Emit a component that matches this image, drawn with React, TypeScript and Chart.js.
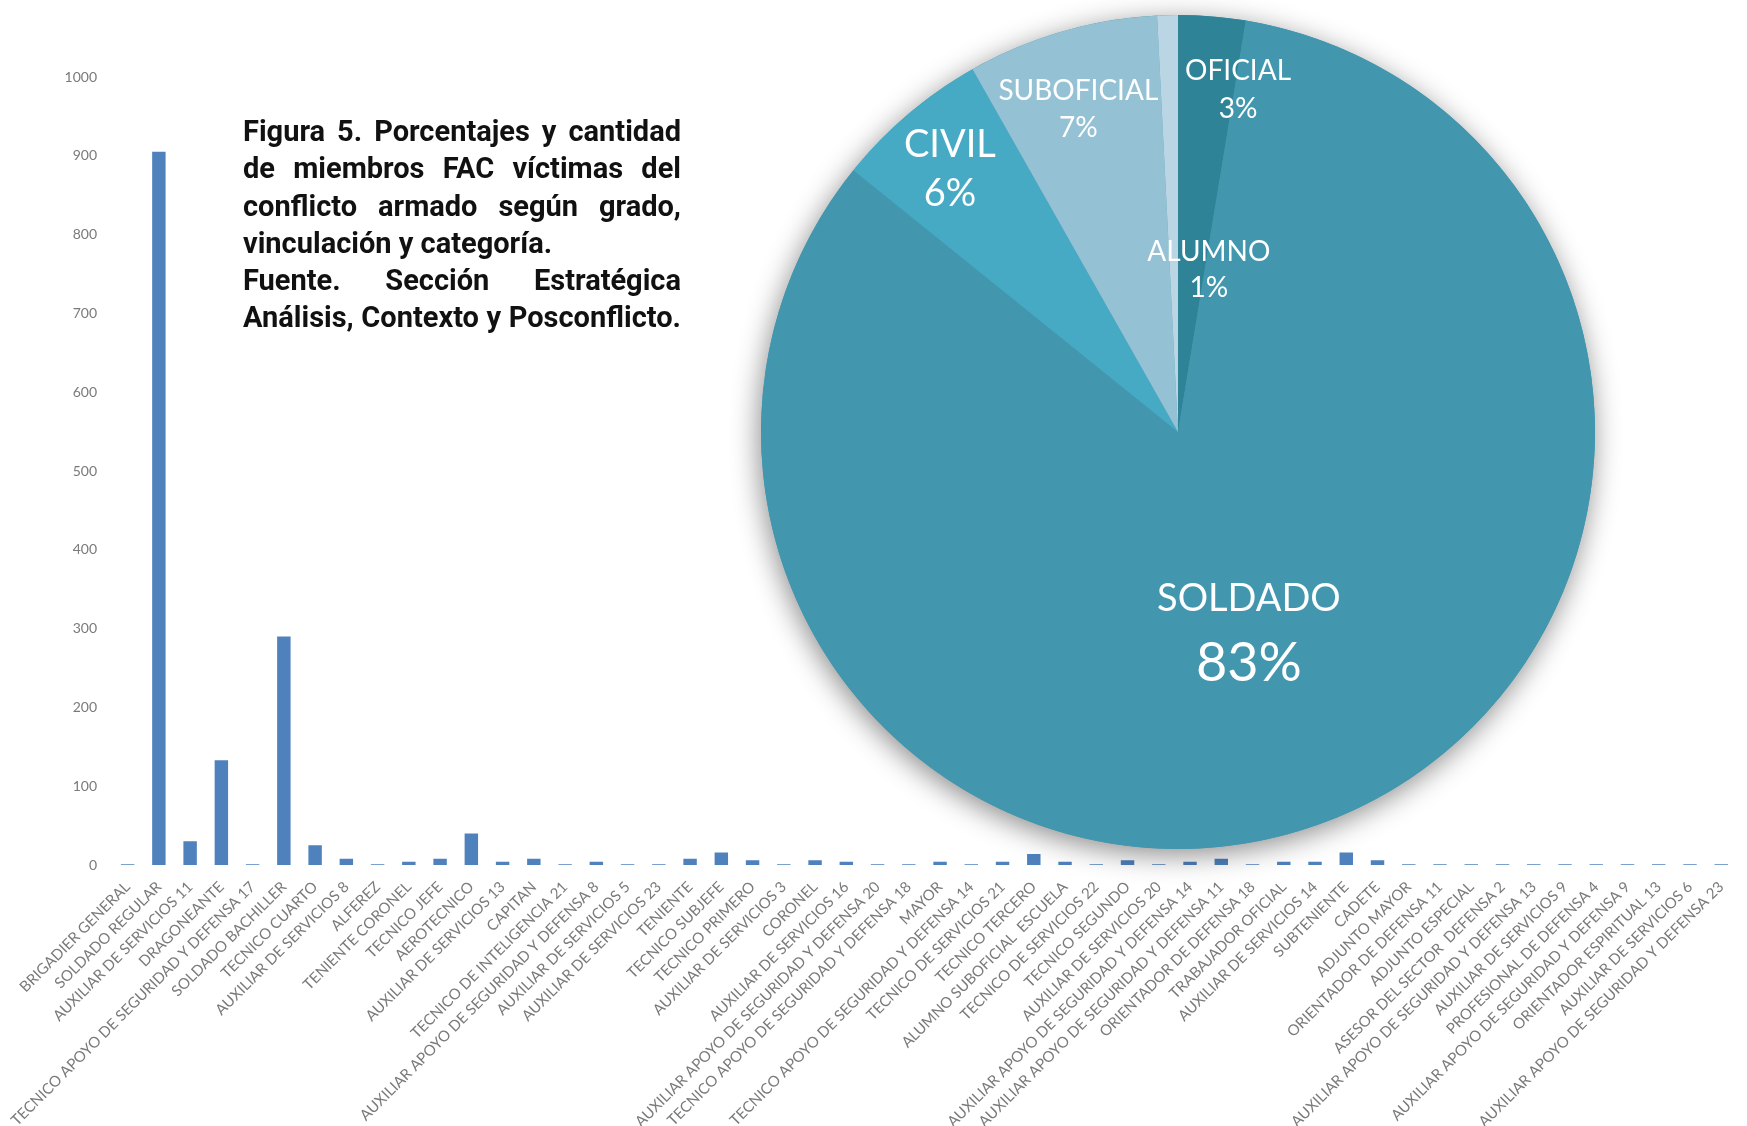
import React, { useEffect, useRef } from "react";
import { Chart, registerables } from "chart.js";

Chart.register(...registerables);

// ---------- DATA ----------
const categories = [
  "BRIGADIER GENERAL",
  "SOLDADO REGULAR",
  "AUXILIAR DE SERVICIOS 11",
  "DRAGONEANTE",
  "TECNICO APOYO DE SEGURIDAD Y DEFENSA 17",
  "SOLDADO BACHILLER",
  "TECNICO CUARTO",
  "AUXILIAR DE SERVICIOS 8",
  "ALFEREZ",
  "TENIENTE CORONEL",
  "TECNICO JEFE",
  "AEROTECNICO",
  "AUXILIAR DE SERVICIOS 13",
  "CAPITAN",
  "TECNICO DE INTELIGENCIA 21",
  "AUXILIAR APOYO DE SEGURIDAD Y DEFENSA 8",
  "AUXILIAR DE SERVICIOS 5",
  "AUXILIAR DE SERVICIOS 23",
  "TENIENTE",
  "TECNICO SUBJEFE",
  "TECNICO PRIMERO",
  "AUXILIAR DE SERVICIOS 3",
  "CORONEL",
  "AUXILIAR DE SERVICIOS 16",
  "AUXILIAR APOYO DE SEGURIDAD Y DEFENSA 20",
  "TECNICO APOYO DE SEGURIDAD Y DEFENSA 18",
  "MAYOR",
  "TECNICO APOYO DE SEGURIDAD Y DEFENSA 14",
  "TECNICO DE SERVICIOS 21",
  "TECNICO TERCERO",
  "ALUMNO SUBOFICIAL  ESCUELA",
  "TECNICO DE SERVICIOS 22",
  "TECNICO SEGUNDO",
  "AUXILIAR DE SERVICIOS 20",
  "AUXILIAR APOYO DE SEGURIDAD Y DEFENSA 14",
  "AUXILIAR APOYO DE SEGURIDAD Y DEFENSA 11",
  "ORIENTADOR DE DEFENSA 18",
  "TRABAJADOR OFICIAL",
  "AUXILIAR DE SERVICIOS 14",
  "SUBTENIENTE",
  "CADETE",
  "ADJUNTO MAYOR",
  "ORIENTADOR DE DEFENSA 11",
  "ADJUNTO ESPECIAL",
  "ASESOR DEL SECTOR  DEFENSA 2",
  "AUXILIAR APOYO DE SEGURIDAD Y DEFENSA 13",
  "AUXILIAR DE SERVICIOS 9",
  "PROFESIONAL DE DEFENSA 4",
  "AUXILIAR APOYO DE SEGURIDAD Y DEFENSA 9",
  "ORIENTADOR ESPIRITUAL 13",
  "AUXILIAR DE SERVICIOS 6",
  "AUXILIAR APOYO DE SEGURIDAD Y DEFENSA 23",
];

const counts = [
  1, 905, 30, 133, 1, 290, 25, 8, 1, 4,
  8, 40, 4, 8, 1, 4, 1, 1, 8, 16,
  6, 1, 6, 4, 1, 1, 4, 1, 4, 14,
  4, 1, 6, 1, 4, 8, 1, 4, 4, 16,
  6, 1, 1, 1, 1, 1, 1, 1, 1, 1,
  1, 1,
];

const yMin = 0;
const yMax = 1000;
const yStep = 100;

const pieLabels = ["OFICIAL", "SOLDADO", "CIVIL", "SUBOFICIAL", "ALUMNO"];
const piePercents = [2.6, 83.2, 6.0, 7.4, 0.8];
const pieShown = ["3%", "83%", "6%", "7%", "1%"];

const titleLines = [
  "Figura 5. Porcentajes y cantidad",
  "de miembros FAC víctimas del",
  "conflicto armado según grado,",
  "vinculación y categoría.",
  "Fuente. Sección Estratégica",
  "Análisis, Contexto y Posconflicto.",
];
const titleJustified = [true, true, true, false, true, true];

// ---------- STYLE ----------
const barColor = "#4F81BD";
const tickColor = "#7A7A7A";
const pieColors = ["#2F8397", "#4297AF", "#46AAC5", "#94C1D4", "#BAD5E3"];
// label placement relative to pie centre, in units of radius: [dx, dyName, dyPct, nameSize, pctSize]
const pieLabelLayout: number[][] = [
  [0.144, -0.866, -0.775, 28, 28],
  [0.17, 0.4, 0.556, 38, 54],
  [-0.547, -0.69, -0.572, 38, 38],
  [-0.239, -0.818, -0.73, 28, 28],
  [0.074, -0.432, -0.346, 28, 28],
];

const W = 1747;
const H = 1126;
const PIE_CX = 1178;
const PIE_CY = 432;
const PIE_R = 417;
const PIE_CANVAS = 940;

export default function App() {
  const barRef = useRef<HTMLCanvasElement | null>(null);
  const pieRef = useRef<HTMLCanvasElement | null>(null);

  useEffect(() => {
    const barChart = new Chart(barRef.current as HTMLCanvasElement, {
      type: "bar",
      data: {
        labels: categories,
        datasets: [
          {
            data: counts,
            backgroundColor: barColor,
            borderWidth: 0,
            barPercentage: 0.43,
            categoryPercentage: 1,
          },
        ],
      },
      options: {
        responsive: false,
        animation: false,
        devicePixelRatio: 1,
        layout: { padding: { top: 77, right: 3, left: 0, bottom: 0 } },
        plugins: { legend: { display: false }, tooltip: { enabled: false } },
        scales: {
          x: {
            grid: { display: false, drawTicks: false },
            border: { display: false },
            ticks: {
              autoSkip: false,
              maxRotation: 45,
              minRotation: 45,
              padding: 13,
              color: tickColor,
              font: { family: "Lato", size: 15 },
            },
            afterFit: (s: any) => {
              s.height = H - 865;
            },
          },
          y: {
            min: yMin,
            max: yMax,
            grid: { display: false, drawTicks: false },
            border: { display: false },
            ticks: {
              stepSize: yStep,
              padding: 15,
              color: tickColor,
              font: { family: "Lato", size: 14 },
              callback: (v: any) => String(v),
            },
            afterFit: (s: any) => {
              s.width = 112;
            },
          },
        },
      },
    });

    const shadowPlugin = {
      id: "pieShadow",
      beforeDatasetsDraw(chart: any) {
        const arc = chart.getDatasetMeta(0).data[0];
        if (!arc) return;
        const ctx = chart.ctx;
        ctx.save();
        ctx.shadowColor = "rgba(0,0,0,0.45)";
        ctx.shadowBlur = 28;
        ctx.shadowOffsetX = -2;
        ctx.shadowOffsetY = 6;
        ctx.fillStyle = pieColors[1];
        ctx.beginPath();
        ctx.arc(arc.x, arc.y, arc.outerRadius, 0, Math.PI * 2);
        ctx.fill();
        ctx.restore();
      },
    };

    const labelPlugin = {
      id: "pieLabels",
      afterDatasetsDraw(chart: any) {
        const arc = chart.getDatasetMeta(0).data[0];
        if (!arc) return;
        const ctx = chart.ctx;
        const r = arc.outerRadius;
        ctx.save();
        ctx.fillStyle = "#FFFFFF";
        ctx.textAlign = "center";
        ctx.textBaseline = "middle";
        pieLabels.forEach((name, i) => {
          const [dx, dyN, dyP, fsN, fsP] = pieLabelLayout[i];
          ctx.font = `${fsN}px Lato`;
          ctx.fillText(name, arc.x + dx * r, arc.y + dyN * r);
          ctx.font = `${fsP}px Lato`;
          ctx.fillText(pieShown[i], arc.x + dx * r, arc.y + dyP * r);
        });
        ctx.restore();
      },
    };

    const pad = (PIE_CANVAS - 2 * PIE_R) / 2;
    const pieChart = new Chart(pieRef.current as HTMLCanvasElement, {
      type: "pie",
      data: {
        labels: pieLabels,
        datasets: [
          {
            data: piePercents,
            backgroundColor: pieColors,
            borderWidth: 0,
          },
        ],
      },
      options: {
        responsive: false,
        animation: false,
        devicePixelRatio: 1,
        layout: { padding: pad },
        plugins: { legend: { display: false }, tooltip: { enabled: false } },
      },
      plugins: [shadowPlugin, labelPlugin],
    });

    return () => {
      barChart.destroy();
      pieChart.destroy();
    };
  }, []);

  return (
    <div style={{ position: "absolute", left: 0, top: 0, width: W, height: H, overflow: "hidden", background: "#fff" }}>
      <canvas ref={barRef} width={W} height={H} style={{ position: "absolute", left: 0, top: 0 }} />
      <canvas
        ref={pieRef}
        width={PIE_CANVAS}
        height={PIE_CANVAS}
        style={{ position: "absolute", left: PIE_CX - PIE_CANVAS / 2, top: PIE_CY - PIE_CANVAS / 2 }}
      />
      <div
        style={{
          position: "absolute",
          left: 243,
          top: 113,
          width: 438,
          fontFamily: "Roboto",
          fontWeight: 700,
          fontSize: 29,
          letterSpacing: "0px",
          lineHeight: "37.3px",
          color: "#111",
        }}
      >
        {titleLines.map((t, i) => (
          <div
            key={i}
            style={{
              textAlign: titleJustified[i] ? "justify" : "left",
              textAlignLast: titleJustified[i] ? "justify" : "left",
              whiteSpace: "nowrap",
            }}
          >
            {t}
          </div>
        ))}
      </div>
    </div>
  );
}
